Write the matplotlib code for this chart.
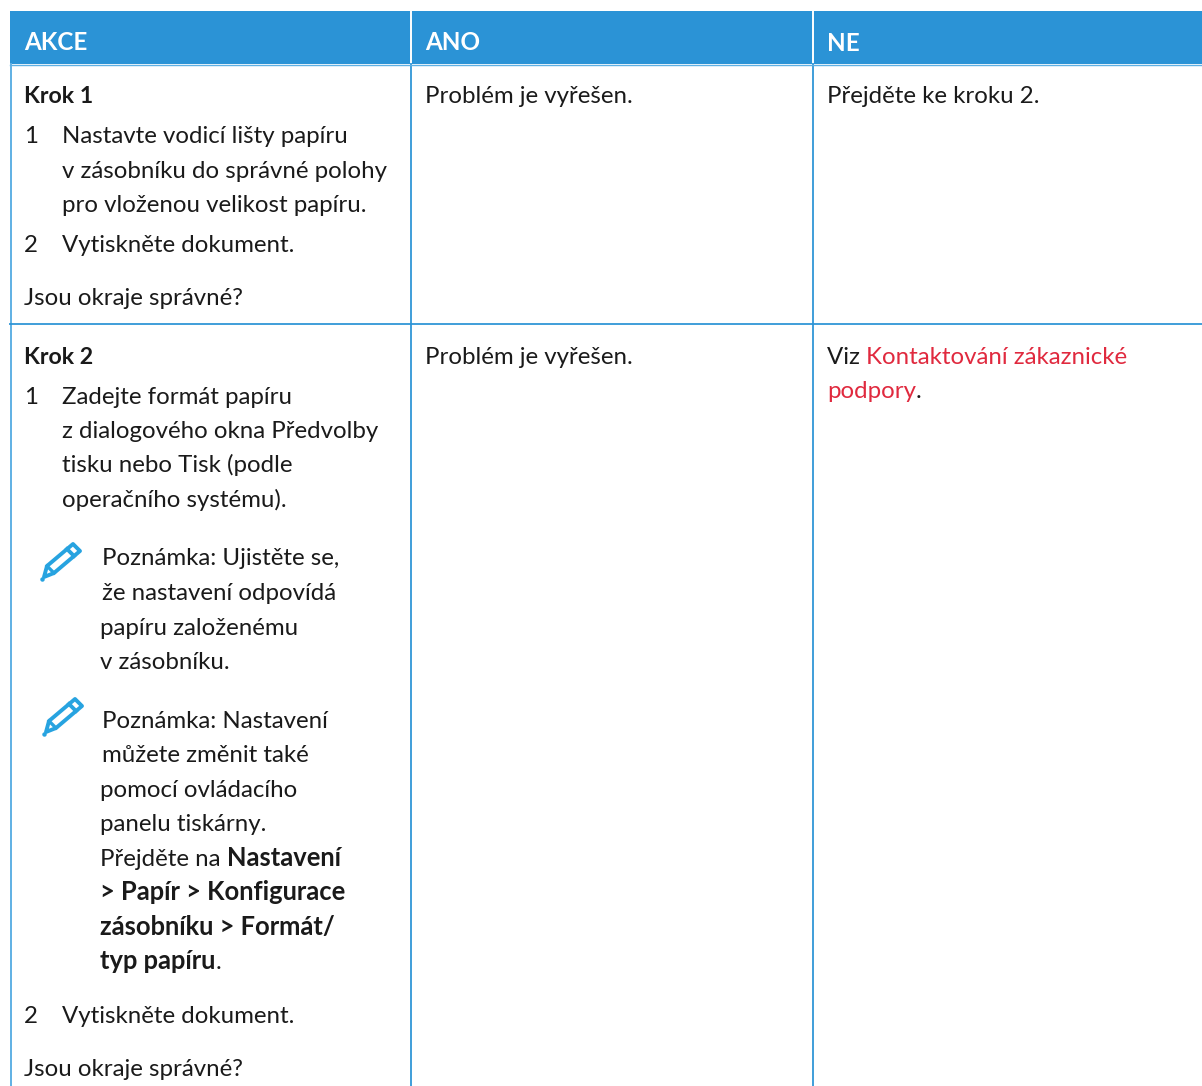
import matplotlib
matplotlib.use("Agg")
import matplotlib.pyplot as plt
from matplotlib.patches import Rectangle, Polygon

W, H = 1202, 1086
FONT = "Lato"
BLACK = "#1a1a1a"
BLUE = "#2b93d6"
RED = "#e0293e"

headers = [("AKCE", 24, 50), ("ANO", 425, 50), ("NE", 827, 51)]

# (x, baseline y, [(text, style), ...]); style: n normal, m step title, b bold, r red
lines = [
    (24, 103, [("Krok 1", "m")]),
    (24, 143, [("1", "n")]),
    (62, 143, [("Nastavte vodicí lišty papíru", "n")]),
    (62, 178, [("v zásobníku do správné polohy", "n")]),
    (62, 212, [("pro vloženou velikost papíru.", "n")]),
    (24, 252, [("2", "n")]),
    (62, 252, [("Vytiskněte dokument.", "n")]),
    (24, 305, [("Jsou okraje správné?", "n")]),
    (425, 103, [("Problém je vyřešen.", "n")]),
    (827, 103, [("Přejděte ke kroku 2.", "n")]),
    (24, 364, [("Krok 2", "m")]),
    (24, 404, [("1", "n")]),
    (62, 404, [("Zadejte formát papíru", "n")]),
    (62, 438, [("z dialogového okna Předvolby", "n")]),
    (62, 472, [("tisku nebo Tisk (podle", "n")]),
    (62, 507, [("operačního systému).", "n")]),
    (102, 565, [("Poznámka: Ujistěte se,", "n")]),
    (102, 600, [("že nastavení odpovídá", "n")]),
    (100, 635, [("papíru založenému", "n")]),
    (100, 669, [("v zásobníku.", "n")]),
    (102, 728, [("Poznámka: Nastavení", "n")]),
    (102, 762, [("můžete změnit také", "n")]),
    (100, 797, [("pomocí ovládacího", "n")]),
    (100, 831, [("panelu tiskárny.", "n")]),
    (100, 866, [("Přejděte na ", "n"), ("Nastavení", "b")]),
    (100, 900, [("> Papír > Konfigurace", "b")]),
    (100, 935, [("zásobníku > Formát/", "b")]),
    (100, 969, [("typ papíru", "b"), (".", "n")]),
    (24, 1023, [("2", "n")]),
    (62, 1023, [("Vytiskněte dokument.", "n")]),
    (24, 1076, [("Jsou okraje správné?", "n")]),
    (425, 364, [("Problém je vyřešen.", "n")]),
    (827, 364, [("Viz ", "n"), ("Kontaktování zákaznické", "r")]),
    (827, 398, [("podpory", "r"), (".", "n")]),
]
icon_positions = [(61, 561), (63, 716)]

fig = plt.figure(figsize=(W / 100, H / 100), dpi=100, facecolor="white")
ax = fig.add_axes([0, 0, 1, 1])
ax.set_xlim(0, W)
ax.set_ylim(H, 0)
ax.axis("off")

ax.add_patch(Rectangle((10, 11), W - 10, 53, fc=BLUE, ec="none"))
for x in (411, 812.5):
    ax.plot([x, x], [11, 64], color="white", lw=1.4)
    ax.plot([x, x], [64, H], color=BLUE, lw=1.4, alpha=.9)
ax.plot([10.5, 10.5], [64, H], color="#5fb0e4", lw=1.4)
ax.plot([10, W], [324, 324], color=BLUE, lw=1.4, alpha=.9)
ax.plot([10, W], [64.5, 64.5], color="#5fb0e4", lw=1)

for t, x, y in headers:
    ax.text(x, y, t, color="white", fontsize=17.4, fontfamily=FONT, fontweight="bold", va="baseline")

style = {
    "n": (BLACK, "normal", 17.3),
    "m": (BLACK, "bold", 16.7),
    "b": (BLACK, "bold", 18.4),
    "r": (RED, "normal", 17.25),
}
fig.canvas.draw()
rend = fig.canvas.get_renderer()
for x, y, runs in lines:
    cx = x
    for t, s in runs:
        c, w, fs = style[s]
        ax.text(cx, y, t, color=c, fontsize=fs, fontfamily=FONT, fontweight=w, va="baseline")
        # trailing spaces are not measured reliably: use a probe character
        probe = ax.text(0, 0, t + "|", fontsize=fs, fontfamily=FONT, fontweight=w)
        bar = ax.text(0, 0, "|", fontsize=fs, fontfamily=FONT, fontweight=w)
        cx += probe.get_window_extent(rend).width - bar.get_window_extent(rend).width
        probe.remove()
        bar.remove()

ICON = "#27a3e0"
for ix, iy in icon_positions:
    outline = [(ix - 14, iy + 5), (ix + 12, iy - 17), (ix + 19, iy - 10),
               (ix - 7, iy + 12), (ix - 17, iy + 16)]
    ax.add_patch(Polygon(outline, closed=True, fc="none", ec=ICON, lw=2.8, joinstyle="round"))
    ax.plot([ix + 6, ix + 13], [iy - 12, iy - 5], color=ICON, lw=2.8)
    ax.plot([ix - 14, ix - 7], [iy + 5, iy + 12], color=ICON, lw=2.4)
    ax.plot([ix - 19], [iy + 18], "o", color=ICON, ms=2.2)

fig.savefig("out.png", dpi=100)
